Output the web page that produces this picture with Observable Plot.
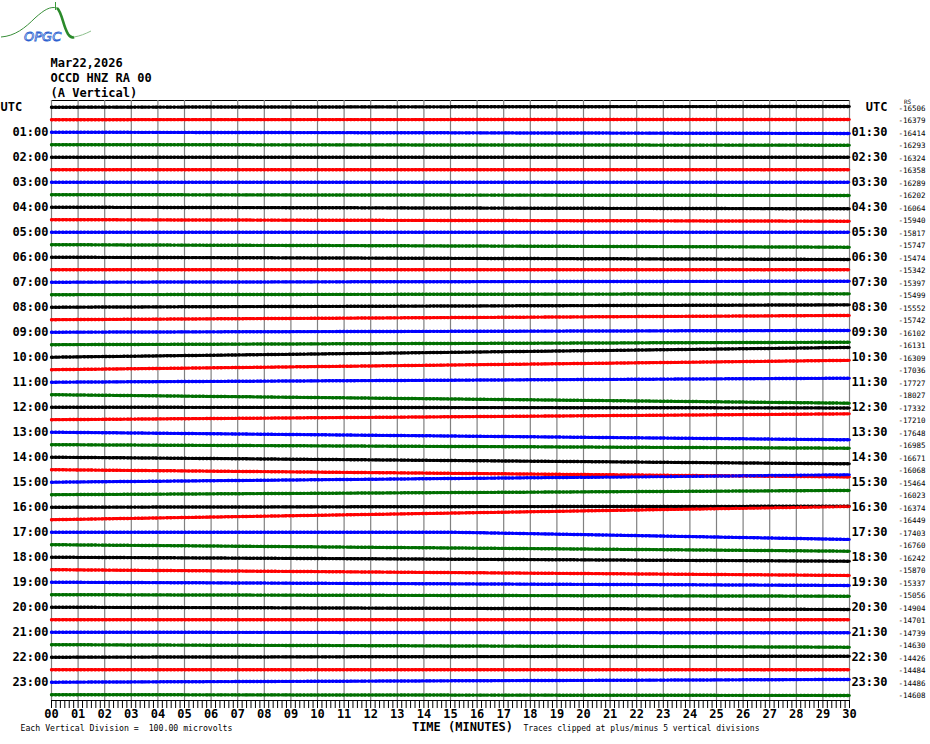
<!DOCTYPE html>
<html>
<head>
<meta charset="utf-8">
<script src="https://cdn.jsdelivr.net/npm/d3@7"></script>
<script src="https://cdn.jsdelivr.net/npm/@observablehq/plot@0.6"></script>
<style>
  body { margin: 0; background: #fff; }
  #wrap { position: relative; width: 930px; height: 744px; overflow: hidden; }
  #logo { position: absolute; left: 0; top: 0; }
  #chart { position: absolute; left: 0; top: 0; }
  #rs { position: absolute; left: 904px; top: 98px; font: 6px "DejaVu Sans Mono", monospace; color: #000; }
</style>
</head>
<body>
<div id="wrap">
  <div id="chart"></div>
  <svg id="logo" width="100" height="46">
    <path d="M1,37 C15,36 25,28 35,18 C44,10 50,6 57,8" stroke="#3a8f3a" fill="none" stroke-width="1"/>
    <path d="M57,8 C62,12 63,26 68,34 C70,37 72,38 74,37" stroke="#2a8a2a" stroke-width="2.6" fill="none"/>
    <path d="M74,37 C80,36 85,34 91,31" stroke="#8cc08c" stroke-width="1" fill="none"/>
    <line x1="55.5" y1="2" x2="55.5" y2="10" stroke="#3a9a3a" stroke-width="1"/>
    <text x="24" y="41" font-family="DejaVu Sans" font-style="italic" font-size="13" fill="#ffffff" stroke="#2a5fd0" stroke-width="0.8">OPGC</text>
  </svg>
  <div id="rs">RS</div>
</div>
<script>
// ---- data ----
const headerLines = ["Mar22,2026", "OCCD HNZ RA 00", "(A Vertical)"];
const traceColors = ["#000000", "#ff0000", "#0000ff", "#006f00"];
const leftHourLabels = ["UTC","01:00","02:00","03:00","04:00","05:00","06:00","07:00","08:00","09:00","10:00","11:00",
  "12:00","13:00","14:00","15:00","16:00","17:00","18:00","19:00","20:00","21:00","22:00","23:00"];
const rightHourLabels = ["UTC","01:30","02:30","03:30","04:30","05:30","06:30","07:30","08:30","09:30","10:30","11:30",
  "12:30","13:30","14:30","15:30","16:30","17:30","18:30","19:30","20:30","21:30","22:30","23:30"];
const traceMeans = [-16506,-16379,-16414,-16293,-16324,-16358,-16289,-16202,-16064,-15940,-15817,-15747,
  -15474,-15342,-15397,-15499,-15552,-15742,-16102,-16131,-16309,-17036,-17727,-18027,
  -17332,-17210,-17648,-16985,-16671,-16068,-15464,-16023,-16374,-16449,-17403,-16760,
  -16242,-15870,-15337,-15056,-14904,-14701,-14739,-14630,-14426,-14484,-14486,-14608];
// baseline drift at the end of each 30-minute trace, in trace spacings (down = positive)
const driftEnd = [-0.06,-0.02,0.1,0.04,0,0,0,0.06,0.13,0.12,0,0.2,
  0.18,0,-0.08,-0.07,-0.19,-0.34,-0.14,-0.2,-0.78,-0.75,-0.32,0.68,
  0.06,-0.47,0.61,0.28,0.53,0.58,-0.59,-0.34,-0.08,-1.06,0.58,0.52,
  0.32,0.46,0.26,0.12,0.18,0,0.05,0.2,-0.08,0,-0.22,0.06];
// drift read at minute 15 where the trace bends (null = straight)
const driftMid = [null,null,null,null,null,null,null,null,null,null,null,null,
  null,null,null,null,null,null,null,null,null,null,null,null,
  null,null,null,null,null,null,null,null,null,null,0,null,
  null,null,null,null,null,null,null,null,null,null,null,null];
const minutes = d3.range(0, 31);
const minorTicks = d3.range(0, 181).map(i => i / 6);
const footLeft = "Each Vertical Division =\u00a0\u00a0100.00 microvolts";
const footRight = "Traces clipped at plus/minus 5 vertical divisions";
const xTitle = "TIME (MINUTES)";

// ---- tables ----
const rows = d3.range(traceMeans.length);
const traces = rows.flatMap(r => {
  const pts = [{row: r, t: 0, v: r}];
  if (driftMid[r] != null) pts.push({row: r, t: 15, v: r + driftMid[r]});
  pts.push({row: r, t: 30, v: r + driftEnd[r]});
  return pts;
});
const leftLabels = leftHourLabels.map((s, i) => ({row: i * 2, s})).slice(1);
const rightLabels = rightHourLabels.map((s, i) => ({row: i * 2, s}));
const means = traceMeans.map((m, i) => ({row: i, s: String(m)}));

const mono = "'DejaVu Sans Mono', monospace";
const traceStroke = d => traceColors[d.row % 4];

const chart = Plot.plot({
  width: 930,
  height: 744,
  marginTop: 100,
  marginBottom: 44,
  marginLeft: 51,
  marginRight: 81,
  x: {domain: [0, 30]},
  y: {domain: [0, 47], range: [106.7, 694.2], axis: null},
  color: {type: "identity"},
  marks: [
    Plot.frame({stroke: "#000"}),
    Plot.ruleX(minutes, {stroke: "#808080", strokeWidth: 1.2}),
    Plot.axisX(minorTicks, {tickSize: 8, tickFormat: () => "", stroke: "#000", label: null}),
    Plot.axisX(minutes, {tickSize: 0, tickPadding: 9, lineAnchor: "top",
      tickFormat: d => String(d).padStart(2, "0"),
      fontSize: 12, fontWeight: "bold", fontFamily: mono, fill: "#000", label: null}),
    Plot.line(traces, {x: "t", y: "v", z: "row", stroke: traceStroke, strokeWidth: 1.7}),
    Plot.line(traces, {x: "t", y: "v", z: "row", stroke: traceStroke, strokeWidth: 3.4,
      strokeDasharray: "1,2.6"}),
    Plot.line(traces, {x: "t", y: "v", z: "row", stroke: traceStroke, strokeWidth: 2.6,
      strokeDasharray: "4,3,1,5", strokeDashoffset: 2}),
    Plot.text(leftLabels, {y: "row", text: "s", frameAnchor: "left", dx: -3, textAnchor: "end",
      fontSize: 12, fontWeight: "bold", fontFamily: mono, fill: "#000"}),
    Plot.text([leftHourLabels[0]], {y: [0], text: d => d, frameAnchor: "left", dx: -51, textAnchor: "start",
      fontSize: 12, fontWeight: "bold", fontFamily: mono, fill: "#000"}),
    Plot.text(rightLabels, {y: "row", text: "s", frameAnchor: "right", dx: 38, textAnchor: "end",
      fontSize: 12, fontWeight: "bold", fontFamily: mono, fill: "#000"}),
    Plot.text(means, {y: "row", text: "s", frameAnchor: "right", dx: 76, dy: 1, textAnchor: "end",
      fontSize: 7.5, fontFamily: mono, fill: "#000"}),
    Plot.text([headerLines.join("\n")], {text: d => d, frameAnchor: "top-left", dx: -1, dy: -4,
      lineAnchor: "bottom", lineHeight: 1.25, textAnchor: "start",
      fontSize: 12, fontFamily: mono, fontWeight: "bold", fill: "#000"}),
    Plot.text([xTitle], {text: d => d, frameAnchor: "bottom", dx: 12, dy: 30.5,
      fontSize: 12, fontWeight: "bold", fontFamily: mono, fill: "#000"}),
    Plot.text([footLeft], {text: d => d, frameAnchor: "bottom-left", dx: -31, dy: 30.5, textAnchor: "start",
      fontSize: 8.2, fontFamily: mono, fill: "#000"}),
    Plot.text([footRight], {text: d => d, frameAnchor: "bottom-left", dx: 472, dy: 30.5, textAnchor: "start",
      fontSize: 8, fontFamily: mono, fill: "#000"})
  ]
});
document.getElementById("chart").appendChild(chart);
</script>
</body>
</html>
